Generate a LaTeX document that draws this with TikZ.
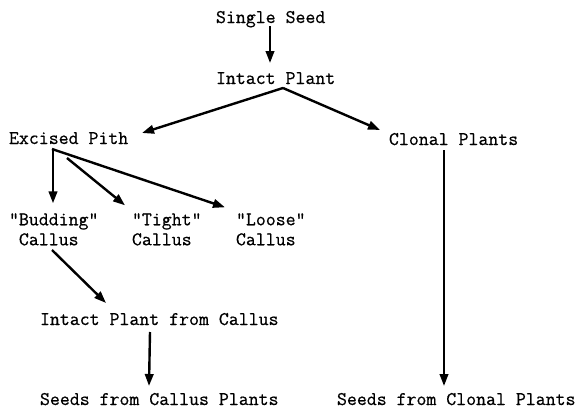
\documentclass[tikz,border=0pt]{standalone}
\usepackage{fontspec}
\setmonofont{Latin Modern Mono}[FakeBold=0.6]
\usetikzlibrary{arrows.meta}
\begin{document}
\begin{tikzpicture}[x=1pt,y=-1pt,
  lbl/.style={inner sep=0pt,outer sep=0pt,align=left,
              font=\fontsize{19.3}{20}\selectfont\ttfamily},
  arr/.style={line width=2.4pt,-{Triangle[length=12pt,width=8.5pt]}}]
\useasboundingbox (0,0) rectangle (582,410);

% labels
\node[lbl,anchor=base west] (ss)  at (216,23)  {Single Seed};
\node[lbl,anchor=base west] (ip)  at (216,84)  {Intact Plant};
\node[lbl,anchor=base west] (ep)  at (9,144)   {Excised Pith};
\node[lbl,anchor=base west] (cp)  at (389,145) {Clonal Plants};
\node[lbl,anchor=north west] (bud) at (9,213.3)   {"Budding"\\\hphantom{"}Callus};
\node[lbl,anchor=north west] (tg)  at (132,213.3) {"Tight"\\Callus};
\node[lbl,anchor=north west] (ls)  at (236,213.3) {"Loose"\\Callus};
\node[lbl,anchor=base west] (ipc) at (40,325)  {Intact Plant from Callus};
\node[lbl,anchor=base west] (scc) at (40,405)  {Seeds from Callus Plants};
\node[lbl,anchor=base west] (scp) at (337,405) {Seeds from Clonal Plants};

% connectors
\draw[arr] ([shift={(54pt,-3pt)}]ss.base west) -- ([shift={(54pt,21pt)}]ip.base west);
\coordinate (apex) at ([shift={(67pt,-4pt)}]ip.base west);
\draw[arr] (apex) -- ([shift={(133pt,11pt)}]ep.base west);
\draw[arr] (apex) -- ([shift={(-9pt,15pt)}]cp.base west);
\draw[arr] ([shift={(55pt,-5pt)}]cp.base west) -- ([shift={(107pt,19pt)}]scp.base west);
\draw[arr] ([shift={(44pt,-5pt)}]ep.base west) -- ([shift={(44pt,10pt)}]bud.north west);
\draw[arr] ([shift={(58pt,-14pt)}]ep.base west) -- ([shift={(-7pt,8pt)}]tg.north west);
\draw[arr] ([shift={(43pt,-5pt)}]ep.base west) -- ([shift={(-11pt,6pt)}]ls.north west);
\draw[arr] ([shift={(43pt,-36.7pt)}]bud.north west) -- ([shift={(66pt,22pt)}]ipc.base west);
\draw[arr] ([shift={(110pt,-7pt)}]ipc.base west) -- ([shift={(109pt,19pt)}]scc.base west);
\end{tikzpicture}
\end{document}
